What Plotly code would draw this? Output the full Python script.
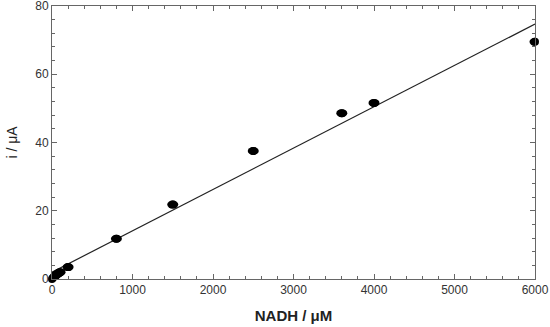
import plotly.graph_objects as go

nadh_uM = [0, 10, 20, 35, 50, 75, 100, 200, 800, 1500, 2500, 3600, 4000, 6000]
current_uA = [0.0, 0.3, 0.6, 0.9, 1.2, 1.6, 2.0, 3.5, 11.8, 21.8, 37.5, 48.6, 51.6, 69.5]

fit_x = [0, 6000]
fit_y = [2.0, 74.7]

x_ticks = [0, 1000, 2000, 3000, 4000, 5000, 6000]
y_ticks = [0, 20, 40, 60, 80]

fig = go.Figure()
fig.add_trace(go.Scatter(x=fit_x, y=fit_y, mode="lines",
                         line=dict(color="#222222", width=1.2),
                         showlegend=False, hoverinfo="skip"))
fig.add_trace(go.Scatter(x=nadh_uM, y=current_uA, mode="markers",
                         marker=dict(size=8, color="black", line=dict(width=0)),
                         cliponaxis=False, showlegend=False))

# elliptical markers, pixel-sized, anchored at data values
for xv, yv in zip(nadh_uM, current_uA):
    fig.add_shape(type="circle", xref="x", yref="y",
                  xsizemode="pixel", ysizemode="pixel",
                  xanchor=xv, yanchor=yv,
                  x0=-5.5, x1=5.5, y0=-4, y1=4,
                  fillcolor="black", line=dict(color="black", width=0))

axis_common = dict(
    showline=True, linecolor="#666666", linewidth=1, mirror="allticks",
    ticks="inside", ticklen=5, tickwidth=1, tickcolor="#666666",
    showgrid=False, zeroline=False, automargin=False,
    ticklabeloverflow="allow",
    tickfont=dict(family="Liberation Sans, Arial", size=12, color="#333333"),
)

fig.update_xaxes(range=[0, 6000], tickvals=x_ticks,
                 minor=dict(ticks="inside", dtick=200, ticklen=3, tickcolor="#666666", showgrid=False),
                 title=dict(text="<b>NADH / μM</b>", standoff=14,
                            font=dict(family="Liberation Sans, Arial", size=15, color="#222222")),
                 **axis_common)
fig.update_yaxes(range=[0, 80], tickvals=y_ticks,
                 minor=dict(ticks="inside", dtick=4, ticklen=3, tickcolor="#666666", showgrid=False),
                 title=dict(text="i / μA", standoff=14,
                            font=dict(family="Liberation Sans, Arial", size=14, color="#222222")),
                 **axis_common)

fig.update_layout(width=550, height=327,
                  margin=dict(l=52, r=15, t=6, b=48, autoexpand=False),
                  plot_bgcolor="white", paper_bgcolor="white")

fig.write_html("out.html", config={"displayModeBar": False},
               post_script="document.body.style.margin='0';")
